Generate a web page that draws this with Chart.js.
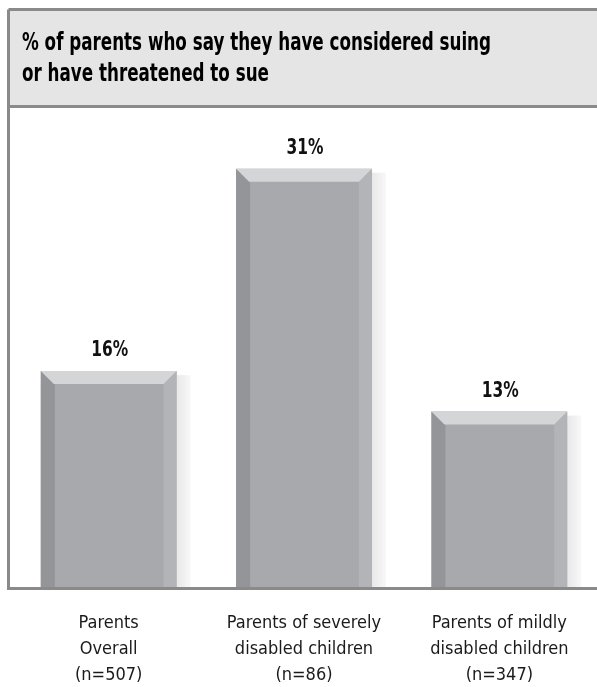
<!DOCTYPE html>
<html>
<head>
<meta charset="utf-8">
<script src="https://cdn.jsdelivr.net/npm/chart.js@4.4.1/dist/chart.umd.min.js"></script>
<style>
  html, body { margin: 0; padding: 0; background: #fff; }
  #chart { display: block; }
</style>
</head>
<body>
<canvas id="chart" width="597" height="687"></canvas>
<script>
// chart data
const titleLines = ["% of parents who say they have considered suing", "or have threatened to sue"];
const groups = [
  ["Parents", "Overall", "(n=507)"],
  ["Parents of severely", "disabled children", "(n=86)"],
  ["Parents of mildly", "disabled children", "(n=347)"],
];
const percents = [16, 31, 13];

const FONT = "'Liberation Sans Narrow', 'DejaVu Sans Condensed', 'Roboto', sans-serif";
const FRAME = "#8a8a8b";

// squeeze text horizontally so it looks like a condensed face
function narrowText(ctx, text, x, y, squeeze) {
  ctx.save();
  ctx.translate(x, y);
  ctx.scale(squeeze, 1);
  ctx.fillText(text, 0, 0);
  ctx.restore();
}

// frame, title box and the bevelled look of the bars
const framePlugin = {
  id: "frame",
  beforeDraw(chart) {
    const ctx = chart.ctx;
    const area = chart.chartArea;
    ctx.save();
    ctx.fillStyle = "#e5e5e5";
    ctx.fillRect(10, 10, chart.width - 10, area.top - 11);
    ctx.fillStyle = "#000";
    ctx.font = "bold 25px " + FONT;
    ctx.textBaseline = "alphabetic";
    ctx.textAlign = "left";
    narrowText(ctx, titleLines[0], 22, 50, 0.745);
    narrowText(ctx, titleLines[1], 22, 81, 0.745);
    ctx.restore();
  },
  beforeDatasetsDraw(chart) {
    const ctx = chart.ctx;
    ctx.save();
    chart.getDatasetMeta(0).data.forEach((bar) => {
      const right = bar.x + bar.width / 2;
      const g = ctx.createLinearGradient(right, 0, right + 14, 0);
      g.addColorStop(0, "#e8e8e8");
      g.addColorStop(1, "#f8f8f8");
      ctx.fillStyle = g;
      ctx.fillRect(right, bar.y + 4, 14, bar.base - bar.y - 4);
    });
    ctx.restore();
  },
  afterDatasetsDraw(chart) {
    const ctx = chart.ctx;
    const area = chart.chartArea;
    const s = 13;
    ctx.save();
    chart.getDatasetMeta(0).data.forEach((bar, i) => {
      const l = bar.x - bar.width / 2, r = bar.x + bar.width / 2;
      const t = bar.y, b = bar.base;
      const poly = (pts, col) => {
        ctx.beginPath();
        ctx.moveTo(pts[0][0], pts[0][1]);
        pts.slice(1).forEach(p => ctx.lineTo(p[0], p[1]));
        ctx.closePath();
        ctx.fillStyle = col;
        ctx.fill();
      };
      poly([[l, t], [l + s + 1, t + s], [l + s + 1, b], [l, b]], "#939598");
      poly([[r, t], [r, b], [r - s, b], [r - s, t + s]], "#b3b4b7");
      poly([[l, t], [r, t], [r - s, t + s], [l + s, t + s]], "#d4d5d7");

      ctx.fillStyle = "#111";
      ctx.font = "bold 22px " + FONT;
      ctx.textAlign = "center";
      ctx.textBaseline = "alphabetic";
      narrowText(ctx, percents[i] + "%", bar.x + 1, t - 15, 0.78);
    });

    ctx.strokeStyle = FRAME;
    ctx.lineWidth = 3;
    ctx.beginPath();
    ctx.moveTo(8.5, 9.5);
    ctx.lineTo(chart.width, 9.5);
    ctx.moveTo(8.5, 9.5);
    ctx.lineTo(8.5, area.bottom + 1.5);
    ctx.lineTo(chart.width, area.bottom + 1.5);
    ctx.moveTo(8.5, area.top - 1.5);
    ctx.lineTo(chart.width, area.top - 1.5);
    ctx.stroke();
    ctx.restore();
  },
};

new Chart(document.getElementById("chart"), {
  type: "bar",
  data: {
    labels: groups,
    datasets: [{
      data: percents,
      backgroundColor: "#a7a9ac",
      borderWidth: 0,
      categoryPercentage: 1,
      barPercentage: 0.695,
    }],
  },
  options: {
    responsive: false,
    animation: false,
    events: [],
    layout: { padding: { left: 11, right: 0, top: 108, bottom: 0 }, autoPadding: false },
    plugins: {
      legend: { display: false },
      title: { display: false },
      tooltip: { enabled: false },
    },
    scales: {
      x: {
        grid: { display: false, drawTicks: false },
        border: { display: false },
        ticks: {
          color: "#1a1a1a",
          font: { family: FONT, size: 18, lineHeight: 1.42 },
          padding: 24,
          maxRotation: 0,
          autoSkip: false,
        },
        afterFit(scale) {
          scale.height = 100;
        },
      },
      y: {
        display: false,
        min: 0,
        max: 35.5,
      },
    },
  },
  plugins: [framePlugin],
});
</script>
</body>
</html>
